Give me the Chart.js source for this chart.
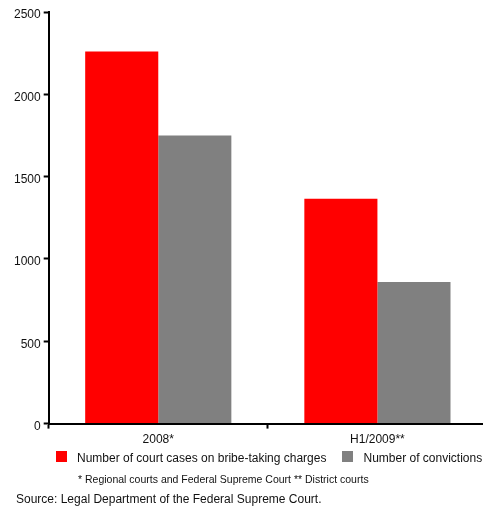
<!DOCTYPE html>
<html>
<head>
<meta charset="utf-8">
<script src="https://cdn.jsdelivr.net/npm/chart.js@4.4.0/dist/chart.umd.min.js"></script>
<style>
  body { margin: 0; width: 483px; height: 507px; overflow: hidden; position: relative; background: #fff;
         font-family: "Liberation Sans", Arial, sans-serif; color: #111; }
  #wrap { position: absolute; left: 0; top: 0; width: 490px; height: 455px; }
  #legend { position: absolute; left: 56px; top: 451px; display: flex; align-items: flex-start;
            font-size: 12px; line-height: 14px; white-space: nowrap; }
  #legend .item { display: flex; align-items: flex-start; margin-right: 16px; }
  #legend .box { width: 11px; height: 11px; margin: 0 10px 0 0; }
  .note { position: absolute; white-space: nowrap; }
</style>
</head>
<body>
<div id="wrap"><canvas id="courts"></canvas></div>
<div id="legend"></div>
<div class="note" style="left:78px; top:473px; font-size:10.5px; line-height:13px;">* Regional courts and Federal Supreme Court ** District courts</div>
<div class="note" style="left:16px; top:492px; font-size:12px; line-height:14px;">Source: Legal Department of the Federal Supreme Court.</div>
<script>
var periods = ["2008*", "H1/2009**"];
var seriesNames = ["Number of court cases on bribe-taking charges", "Number of convictions"];
var cases = [2260, 1365];
var convictions = [1750, 860];
var seriesColors = ["#ff0000", "#808080"];
var yTicks = [0, 500, 1000, 1500, 2000, 2500];

var barData = {
    labels: periods,
    datasets: [
        {
            label: seriesNames[0],
            backgroundColor: seriesColors[0],
            data: cases
        },{
            label: seriesNames[1],
            backgroundColor: seriesColors[1],
            data: convictions
        }
    ]
};

var axisFont = {family: "'Liberation Sans', Arial, sans-serif", size: 12};

var barOptions = {
    responsive: true,
    maintainAspectRatio: false,
    animation: false,
    categoryPercentage: 0.667,
    barPercentage: 1,
    layout: {padding: {left: 11, right: 3, top: 12, bottom: 4}},
    plugins: {
        legend: {display: false},
        tooltip: {enabled: false}
    },
    scales: {
        x: {
            grid: {drawOnChartArea: false, drawTicks: true, tickLength: 5, tickColor: "#000", tickWidth: 2, offset: true},
            border: {display: true, color: "#000", width: 2},
            ticks: {color: "#111", font: axisFont, padding: 4}
        },
        y: {
            min: yTicks[0],
            max: yTicks[yTicks.length - 1],
            afterBuildTicks: function (axis) {
                axis.ticks = yTicks.map(function (v) { return {value: v}; });
            },
            grid: {drawOnChartArea: false, drawTicks: true, tickLength: 5, tickColor: "#000", tickWidth: 2},
            border: {display: true, color: "#000", width: 2},
            ticks: {
                color: "#111", font: axisFont, padding: 3, labelOffset: 3,
                callback: function (value) { return String(value); }
            }
        }
    }
};

var ctx = document.getElementById("courts").getContext("2d");
new Chart(ctx, {type: 'bar', data: barData, options: barOptions});

// legend row under the axis
var legend = document.getElementById("legend");
seriesNames.forEach(function (name, i) {
    var item = document.createElement("div");
    item.className = "item";
    var box = document.createElement("span");
    box.className = "box";
    box.style.background = seriesColors[i];
    var txt = document.createElement("span");
    txt.textContent = name;
    item.appendChild(box);
    item.appendChild(txt);
    legend.appendChild(item);
});
</script>
</body>
</html>
